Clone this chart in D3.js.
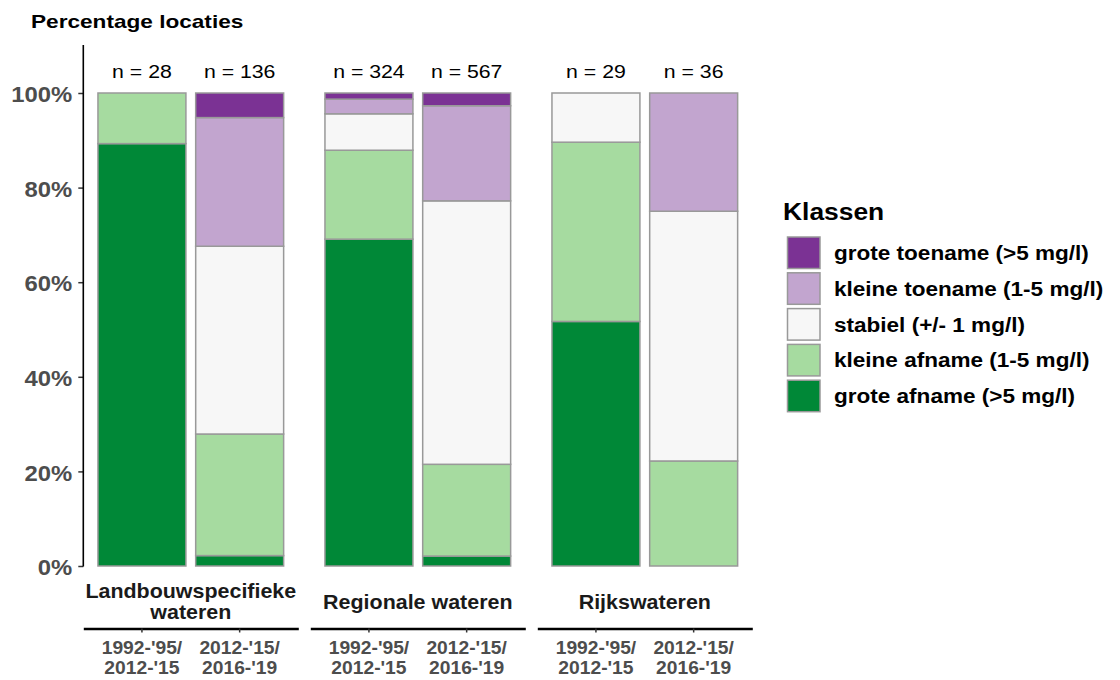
<!DOCTYPE html>
<html>
<head>
<meta charset="utf-8">
<script src="https://cdn.jsdelivr.net/npm/d3@7"></script>
<style>
  html, body { margin: 0; padding: 0; background: #fff; }
  svg { display: block; font-family: "Liberation Sans", Arial, sans-serif; }
</style>
</head>
<body>
<svg id="chart" width="1120" height="680"></svg>
<script>
// ---------- data ----------
const groups = ["Landbouwspecifieke\nwateren", "Regionale wateren", "Rijkswateren"];
const periods = ["1992-'95/\n2012-'15", "2012-'15/\n2016-'19"];
const nCounts = [[28, 136], [324, 567], [29, 36]];
const classLabels = ["grote toename (>5 mg/l)", "kleine toename (1-5 mg/l)", "stabiel (+/- 1 mg/l)", "kleine afname (1-5 mg/l)", "grote afname (>5 mg/l)"];
const classColors = ["#7b3294", "#c2a5cf", "#f7f7f7", "#a6dba0", "#008837"];
const yTicks = [0, 20, 40, 60, 80, 100];
// percentages per bar: order L1, L2, R1, R2, Rk1, Rk2
const groteAfname   = [89.3,  2.2, 69.1,  2.1, 51.7,  0.0];
const kleineAfname  = [10.7, 25.7, 18.8, 19.4, 37.9, 22.2];
const stabiel       = [ 0.0, 39.7,  7.7, 55.7, 10.4, 52.8];
const kleineToename = [ 0.0, 27.2,  3.1, 20.1,  0.0, 25.0];
const groteToename  = [ 0.0,  5.2,  1.3,  2.7,  0.0,  0.0];

// ---------- layout ----------
const svg = d3.select("#chart");
const panelW = 215, panelGap = 12, panel0 = 83.3;
const yTop = 93, yBot = 566;
const y = d3.scaleLinear().domain([0, 100]).range([yBot, yTop]);

function txt(g, x, yy, str, o) {
  const sx = o.sx || 1.1;
  return g.append("text")
    .attr("transform", `translate(${x},${yy}) scale(${sx},1)`)
    .attr("text-anchor", o.anchor || "start")
    .attr("font-size", o.size)
    .attr("font-weight", o.weight || "normal")
    .attr("fill", o.fill || "#000")
    .text(str);
}

const keys = ["groteAfname", "kleineAfname", "stabiel", "kleineToename", "groteToename"];
const keyColor = { groteAfname: classColors[4], kleineAfname: classColors[3], stabiel: classColors[2], kleineToename: classColors[1], groteToename: classColors[0] };
const rows = [];
groups.forEach((gname, gi) => periods.forEach((p, pi) => {
  const i = gi * 2 + pi;
  rows.push({ group: gname, period: p, n: nCounts[gi][pi],
    groteAfname: groteAfname[i], kleineAfname: kleineAfname[i], stabiel: stabiel[i],
    kleineToename: kleineToename[i], groteToename: groteToename[i] });
}));
const stacked = d3.stack().keys(keys)(rows);

// title
txt(svg, 31, 28, "Percentage locaties", { size: 19, weight: "bold", sx: 1.19 });

// y axis
const yAxis = svg.append("g").attr("transform", `translate(${panel0},0)`)
  .call(d3.axisLeft(y).tickValues(yTicks).tickFormat(d => d + "%").tickSize(5).tickSizeOuter(0));
yAxis.select(".domain").remove();
yAxis.append("line").attr("x1", 0).attr("x2", 0).attr("y1", 45).attr("y2", yBot + 0.5)
  .attr("stroke", "#000").attr("stroke-width", 1.6);
yAxis.selectAll(".tick line").attr("stroke", "#333").attr("stroke-width", 1.5);
yAxis.selectAll(".tick text")
  .attr("x", null).attr("dy", null)
  .attr("transform", `translate(-11,8.6) scale(1.06,1)`)
  .attr("font-size", 22.5).attr("font-weight", "bold").attr("fill", "#4d4d4d")
  .attr("font-family", "Liberation Sans, Arial, sans-serif");

// panels
groups.forEach((gname, gi) => {
  const left = panel0 + gi * (panelW + panelGap);
  const x = d3.scaleBand().domain(periods).range([left, left + panelW]).paddingInner(0.1).paddingOuter(0.15);
  const g = svg.append("g");
  stacked.forEach(layer => {
    layer.forEach((seg, ri) => {
      const row = rows[ri];
      if (row.group !== gname) return;
      if (seg[1] - seg[0] <= 0) return;
      g.append("rect")
        .attr("x", x(row.period))
        .attr("width", x.bandwidth())
        .attr("y", y(seg[1]))
        .attr("height", y(seg[0]) - y(seg[1]))
        .attr("fill", keyColor[layer.key])
        .attr("stroke", "#999999")
        .attr("stroke-width", 1.5);
    });
  });
  // n labels
  rows.filter(r => r.group === gname).forEach(r => {
    txt(g, x(r.period) + x.bandwidth() / 2, 77.5, "n = " + r.n, { size: 18.5, anchor: "middle", sx: 1.15 });
  });
  // group label (strip)
  const lines = gname.split("\n");
  const cx = left + panelW / 2;
  if (lines.length === 2) {
    txt(g, cx, 597.5, lines[0], { size: 19.5, weight: "bold", anchor: "middle", fill: "#1a1a1a" });
    txt(g, cx, 619, lines[1], { size: 19.5, weight: "bold", anchor: "middle", fill: "#1a1a1a" });
  } else {
    txt(g, cx, 608.5, lines[0], { size: 19.5, weight: "bold", anchor: "middle", fill: "#1a1a1a" });
  }
  // bottom axis
  const xa = svg.append("g").attr("transform", "translate(0,628.5)")
    .call(d3.axisBottom(x).tickSize(4).tickSizeOuter(0));
  xa.select(".domain").attr("stroke", "#000").attr("stroke-width", 2.6);
  xa.selectAll(".tick line").attr("stroke", "#333").attr("stroke-width", 1.5);
  xa.selectAll(".tick text").remove();
  periods.forEach(p => {
    const px = x(p) + x.bandwidth() / 2;
    const pl = p.split("\n");
    txt(xa, px, 25, pl[0], { size: 17.5, weight: "bold", anchor: "middle", fill: "#4d4d4d" });
    txt(xa, px, 45, pl[1], { size: 17.5, weight: "bold", anchor: "middle", fill: "#4d4d4d" });
  });
});

// legend
const lg = svg.append("g");
txt(lg, 783, 220, "Klassen", { size: 24, weight: "bold" });
classLabels.forEach((lab, i) => {
  const top = 237 + i * 35.8;
  lg.append("rect").attr("x", 787.5).attr("y", top).attr("width", 32.5).attr("height", 31.5)
    .attr("fill", classColors[i]).attr("stroke", "#999999").attr("stroke-width", 1.5);
  txt(lg, 834, top + 23, lab, { size: 20.5, weight: "bold" });
});
</script>
</body>
</html>
